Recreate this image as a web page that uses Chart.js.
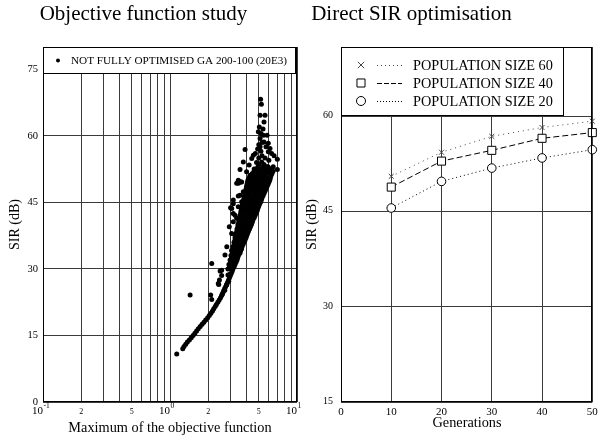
<!DOCTYPE html>
<html>
<head>
<meta charset="utf-8">
<script src="https://cdn.jsdelivr.net/npm/chart.js@4.4.0/dist/chart.umd.min.js"></script>
<style>
  html, body { margin: 0; padding: 0; background: #fff; }
  #wrap { position: relative; width: 599px; height: 436px; overflow: hidden; }
  canvas { position: absolute; top: 0; }
  #left { left: 0; }
  #right { left: 300px; }
</style>
</head>
<body>
<div id="wrap">
  <canvas id="left" width="320" height="436"></canvas>
  <canvas id="right" width="299" height="436"></canvas>
</div>
<script>
// ---- left chart: objective function study (x = max of objective, y = SIR dB) ----
const scatterLabel = 'NOT FULLY OPTIMISED GA 200-100 (20E3)';

// thin lower part of the cloud
const thinBand = [
  [1.26, 12], [1.29, 12.5], [1.33, 13], [1.37, 13.5], [1.42, 14], [1.47, 14.5],
  [1.52, 15], [1.57, 15.5], [1.62, 16], [1.67, 16.5], [1.73, 17], [1.79, 17.5],
  [1.85, 18], [1.91, 18.5], [1.98, 19], [2.04, 19.5], [2.1, 20], [2.16, 20.5],
  [2.21, 21], [2.27, 21.5], [2.32, 22], [2.38, 22.5], [2.44, 23], [2.5, 23.5],
  [2.55, 24], [2.6, 24.5], [2.64, 25], [2.69, 25.5], [2.74, 26], [2.79, 26.5],
  [2.84, 27], [2.89, 27.5], [2.94, 28], [2.99, 28.5], [3.04, 29], [3.09, 29.5],
  [2.58, 24.3], [2.7, 25.2], [2.8, 26.4], [2.9, 27.2], [2.96, 28.8], [2.86, 28.6]
];

// dense wedge: [SIR, x values across the band]
const wedgeRows = [
  [30, [2.86, 3.02, 3.13]],
  [30.5, [2.94, 3.08, 3.2]],
  [31, [2.91, 3.08, 3.25]],
  [31.5, [2.99, 3.14, 3.31]],
  [32, [2.97, 3.16, 3.37]],
  [32.5, [3.05, 3.22, 3.41]],
  [33, [3.02, 3.22, 3.46]],
  [33.5, [3.1, 3.28, 3.46, 3.55]],
  [34, [3.08, 3.25, 3.43, 3.59]],
  [34.5, [3.15, 3.33, 3.52, 3.66]],
  [35, [3.13, 3.31, 3.49, 3.69]],
  [35.5, [3.2, 3.38, 3.57, 3.76]],
  [36, [3.19, 3.40, 3.62, 3.83]],
  [36.5, [3.25, 3.45, 3.66, 3.9]],
  [37, [3.25, 3.46, 3.69, 3.97]],
  [37.5, [3.3, 3.52, 3.76, 4.02]],
  [38, [3.31, 3.56, 3.83, 4.08]],
  [38.5, [3.36, 3.6, 3.86, 4.15]],
  [39, [3.37, 3.62, 3.90, 4.23]],
  [39.5, [3.42, 3.68, 3.96, 4.3]],
  [40, [3.43, 3.72, 4.04, 4.38]],
  [40.5, [3.48, 3.76, 4.06, 4.26, 4.44]],
  [41, [3.49, 3.79, 4.11, 4.50]],
  [41.5, [3.54, 3.84, 4.16, 4.4, 4.6]],
  [42, [3.56, 3.90, 4.27, 4.67]],
  [42.5, [3.6, 3.8, 4.08, 4.36, 4.62, 4.76]],
  [43, [3.62, 3.90, 4.19, 4.50, 4.84]],
  [43.5, [3.66, 3.94, 4.22, 4.54, 4.9]],
  [44, [3.69, 3.97, 4.27, 4.59, 4.98]],
  [44.5, [3.72, 4.02, 4.34, 4.68, 5.06]],
  [45, [3.76, 4.08, 4.42, 4.76, 5.16]],
  [45.5, [3.8, 4.12, 4.45, 4.82, 5.05, 5.24]],
  [46, [3.83, 4.15, 4.50, 4.89, 5.30]],
  [46.5, [3.86, 4.17, 4.52, 4.72, 4.94, 5.2, 5.4]],
  [47, [3.90, 4.19, 4.55, 4.98, 5.50]],
  [47.5, [3.94, 4.23, 4.58, 4.8, 5.0, 5.22, 5.6]],
  [48, [3.97, 4.27, 4.63, 5.02, 5.35, 5.70]],
  [48.5, [4.0, 4.32, 4.68, 4.88, 5.06, 5.42, 5.8]],
  [49, [4.04, 4.38, 4.76, 5.11, 5.50, 5.91]],
  [49.5, [4.08, 4.4, 4.6, 4.92, 5.16, 5.35, 5.58, 6.0]],
  [50, [4.11, 4.42, 4.80, 5.21, 5.65, 6.10]],
  [50.5, [4.2, 4.55, 4.95, 5.35, 5.8, 6.17]],
  [51, [4.27, 4.67, 5.11, 5.60, 6.24]],
  [51.5, [4.45, 4.85, 5.3, 5.8, 6.35]],
  [52, [4.59, 5.02, 5.50, 6.00, 6.47]],
  [52.5, [4.75, 5.2, 5.7, 6.2]],
  [53, [4.93, 5.40, 5.91]]
];

// scattered points above and left of the band
const outliers = [
  [5.17, 68.2], [5.24, 67.1], [5.12, 64.6], [5.6, 64.6], [5.5, 63.1], [5.05, 62.0],
  [4.96, 60.9], [5.43, 60.1], [5.81, 60.1], [5.12, 59.4], [5.5, 58.6], [5.94, 58.3],
  [3.9, 56.9], [5.12, 57.5], [6.13, 57.1], [5.94, 56.4], [4.53, 55.6], [4.4, 54.9],
  [6.31, 56.0], [5.27, 54.1], [7.0, 54.7], [3.78, 54.1], [4.2, 53.4], [3.56, 52.4],
  [7.0, 52.4], [6.31, 51.5], [4.01, 51.9], [3.45, 50.0], [3.6, 49.6], [3.78, 47.4],
  [3.15, 45.5], [3.45, 44.0], [3.0, 43.8], [3.25, 42.1], [2.93, 39.5], [3.06, 38.0],
  [2.71, 33.1], [2.13, 31.2], [2.55, 29.7], [3.06, 34.2], [3.15, 40.6], [3.06, 43.6],
  [3.45, 46.4], [3.45, 49.3], [3.67, 49.6], [4.14, 50.0], [4.27, 51.1], [1.44, 24.1],
  [2.09, 24.1], [2.13, 23.1], [1.13, 10.8], [5.0, 58.0], [5.2, 56.5], [4.9, 57.0],
  [5.3, 55.5], [5.6, 55.0], [5.0, 55.0], [4.8, 54.0], [5.5, 53.5], [5.8, 53.0],
  [5.3, 58.5], [5.7, 57.5], [4.7, 56.0], [5.4, 61.5], [5.2, 60.5], [5.0, 53.5],
  [6.0, 54.5], [6.5, 53.0], [6.6, 55.5], [5.4, 52.5], [6.2, 52.5], [4.6, 52.5],
  [3.15, 44.7], [3.35, 49.3], [3.56, 49.6], [4.14, 48.9], [3.15, 42.5], [3.35, 41.4],
  [3.25, 37.6], [2.8, 35.0], [3.56, 46.6], [3.67, 45.1], [2.48, 29.5], [2.55, 28.5],
  [2.45, 27.5], [2.42, 26.5], [2.4, 26.7]
];

const leftYTicks = [0, 15, 30, 45, 60, 75];
const leftXGrid = [0.1, 0.2, 0.3, 0.4, 0.5, 0.6, 0.7, 0.8, 0.9, 1, 2, 3, 4, 5, 6, 7, 8, 9, 10];
const leftXLabelValues = [0.1, 0.2, 0.5, 1, 2, 5, 10];
const leftXLabels = ['10|-1', '2', '5', '10|0', '2', '5', '10|1'];

// ---- right chart: direct SIR optimisation ----
const generations = [10, 20, 30, 40, 50];
const pop60 = [50.6, 54.4, 56.9, 58.3, 59.3];
const pop40 = [48.9, 53.0, 54.7, 56.6, 57.5];
const pop20 = [45.6, 49.8, 51.9, 53.5, 54.8];
const seriesNames = ['POPULATION SIZE 60', 'POPULATION SIZE 40', 'POPULATION SIZE 20'];
const rightXTicks = [0, 10, 20, 30, 40, 50];
const rightYTicks = [15, 30, 45, 60];

const SERIF = '"Liberation Serif", "DejaVu Serif", serif';

function textAt(ctx, str, x, y, size, align, base) {
  ctx.font = size + 'px ' + SERIF;
  ctx.textAlign = align || 'center';
  ctx.textBaseline = base || 'middle';
  ctx.fillText(str, x, y);
}

// border, tick labels, titles and legend drawn on top of the chart
function framePlugin(o) {
  return {
    id: 'frame',
    afterDraw(chart) {
      const { ctx, chartArea: a, scales } = chart;
      ctx.save();
      ctx.fillStyle = '#000';
      ctx.strokeStyle = '#000';
      ctx.lineWidth = 1;
      ctx.strokeRect(Math.round(a.left) + 0.5, Math.round(a.top) + 0.5,
        Math.round(a.right - a.left) - 1, Math.round(a.bottom - a.top) - 1);
      o.yTicks.forEach(v => textAt(ctx, String(v), a.left - o.yGap,
        scales.y.getPixelForValue(v) + o.yShift, o.yTickSize, 'right'));
      o.xTicks(ctx, scales.x);
      textAt(ctx, o.xTitle, o.xTitleX, o.xTitleY, 14.3, 'center', 'alphabetic');
      ctx.save();
      ctx.translate(o.yTitleX, (a.top + a.bottom) / 2);
      ctx.rotate(-Math.PI / 2);
      textAt(ctx, 'SIR (dB)', 0, 0, 14, 'center', 'middle');
      ctx.restore();
      textAt(ctx, o.title, o.titleX, 20, 21, 'center', 'alphabetic');
      o.legend(ctx);
      ctx.restore();
    }
  };
}

function hidden(extra) {
  return Object.assign({
    ticks: { display: false },
    grid: { color: '#3a3a3a', lineWidth: 1, drawTicks: false, tickLength: 0 },
    border: { display: false }
  }, extra);
}

const cloud = thinBand
  .concat(...wedgeRows.map(([s, xs]) => xs.map(x => [x, s])))
  .concat(outliers)
  .map(([x, y]) => ({ x, y }));

new Chart(document.getElementById('left'), {
  type: 'scatter',
  data: {
    datasets: [{
      label: scatterLabel,
      data: cloud,
      pointRadius: 2.5,
      pointHoverRadius: 2.5,
      backgroundColor: '#000',
      borderWidth: 0
    }]
  },
  options: {
    responsive: false,
    animation: false,
    events: [],
    layout: { padding: { left: 43, right: 23, top: 47, bottom: 34 } },
    plugins: { legend: { display: false }, tooltip: { enabled: false } },
    scales: {
      x: hidden({
        type: 'logarithmic', min: 0.1, max: 10,
        afterBuildTicks: s => { s.ticks = leftXGrid.map(v => ({ value: v })); }
      }),
      y: hidden({
        type: 'linear', min: 0, max: 80,
        afterBuildTicks: s => { s.ticks = leftYTicks.map(v => ({ value: v })); }
      })
    }
  },
  plugins: [framePlugin({
    yTicks: leftYTicks, yGap: 5, yShift: 0, yTickSize: 10.5,
    xTicks(ctx, x) {
      leftXLabelValues.forEach((v, i) => {
        const px = x.getPixelForValue(v);
        const parts = leftXLabels[i].split('|');
        if (parts.length === 2) {
          textAt(ctx, parts[0], px, 411, 11, 'right');
          textAt(ctx, parts[1], px + 0.5, 406.5, 7.5, 'left');
        } else {
          textAt(ctx, parts[0], px, 412, 8);
        }
      });
    },
    xTitle: 'Maximum of the objective function', xTitleX: 170, xTitleY: 432,
    yTitleX: 15,
    title: 'Objective function study', titleX: 143.5,
    legend(ctx) {
      ctx.fillStyle = '#fff';
      ctx.fillRect(43.5, 47.5, 252, 26);
      ctx.strokeRect(43.5, 47.5, 252, 26);
      ctx.fillStyle = '#000';
      ctx.beginPath();
      ctx.arc(58, 60.5, 2, 0, Math.PI * 2);
      ctx.fill();
      textAt(ctx, scatterLabel, 71, 61, 11.2, 'left');
    }
  })]
});

const seriesStyles = [
  { borderColor: '#444', borderDash: [1, 4], pointStyle: 'crossRot', pointRadius: 3.5, pointBackgroundColor: '#444', legendDash: [1, 3], legendRadius: 4.5 },
  { borderColor: '#000', borderDash: [6, 3], pointStyle: 'rect', pointRadius: 5.7, pointBackgroundColor: '#fff', legendDash: [5, 2], legendRadius: 5.7 },
  { borderColor: '#000', borderDash: [1, 3], pointStyle: 'circle', pointRadius: 4.3, pointBackgroundColor: '#fff', legendDash: [1, 2], legendRadius: 4.5 }
];

new Chart(document.getElementById('right'), {
  type: 'line',
  data: {
    datasets: [pop60, pop40, pop20].map((vals, i) => ({
      label: seriesNames[i],
      data: generations.map((g, j) => ({ x: g, y: vals[j] })),
      borderColor: seriesStyles[i].borderColor,
      borderWidth: 1,
      borderDash: seriesStyles[i].borderDash,
      pointStyle: seriesStyles[i].pointStyle,
      pointRadius: seriesStyles[i].pointRadius,
      pointHoverRadius: seriesStyles[i].pointRadius,
      pointBorderColor: seriesStyles[i].borderColor,
      pointBackgroundColor: seriesStyles[i].pointBackgroundColor,
      pointBorderWidth: 1,
      fill: false,
      tension: 0,
      clip: false
    }))
  },
  options: {
    responsive: false,
    animation: false,
    events: [],
    layout: { padding: { left: 41, right: 4, top: 47, bottom: 34 } },
    plugins: { legend: { display: false }, tooltip: { enabled: false } },
    scales: {
      x: hidden({
        type: 'linear', min: 0, max: 50,
        afterBuildTicks: s => { s.ticks = rightXTicks.map(v => ({ value: v })); }
      }),
      y: hidden({
        type: 'linear', min: 15, max: 71,
        afterBuildTicks: s => { s.ticks = rightYTicks.map(v => ({ value: v })); }
      })
    }
  },
  plugins: [framePlugin({
    yTicks: rightYTicks, yGap: 8, yShift: -1, yTickSize: 10,
    xTicks(ctx, x) {
      rightXTicks.forEach(v => textAt(ctx, String(v), x.getPixelForValue(v), 412, 11));
    },
    xTitle: 'Generations', xTitleX: 167, xTitleY: 427,
    yTitleX: 12,
    title: 'Direct SIR optimisation', titleX: 111.5,
    legend(ctx) {
      ctx.fillStyle = '#fff';
      ctx.fillRect(41.5, 47.5, 222, 68);
      ctx.strokeRect(41.5, 47.5, 222, 68);
      [65, 83, 101].forEach((yy, i) => {
        const st = seriesStyles[i];
        ctx.save();
        ctx.strokeStyle = st.borderColor;
        ctx.setLineDash(st.legendDash);
        ctx.beginPath();
        ctx.moveTo(77, yy + 0.5);
        ctx.lineTo(102, yy + 0.5);
        ctx.stroke();
        ctx.setLineDash([]);
        ctx.fillStyle = st.pointBackgroundColor;
        Chart.helpers.drawPoint(ctx, { pointStyle: st.pointStyle, radius: st.legendRadius, borderWidth: 1, rotation: 0 }, 61, yy);
        ctx.restore();
        ctx.fillStyle = '#000';
        textAt(ctx, seriesNames[i], 113, yy + 1, 14.3, 'left');
      });
    }
  })]
});
</script>
</body>
</html>
